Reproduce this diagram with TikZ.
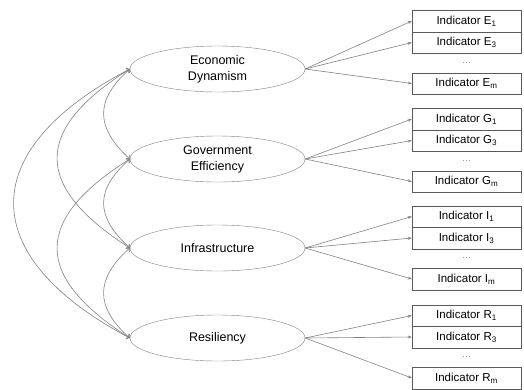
\documentclass[tikz,border=0pt]{standalone}
\usepackage{fontspec}
\setmainfont{Liberation Sans}
\usetikzlibrary{shapes.geometric,arrows.meta}
\begin{document}
\begin{tikzpicture}[x=1pt,y=-1pt]
\tikzset{factor/.style={ %
		draw=gray,
		ellipse,
		inner sep=0pt,
		minimum width=175pt,
		minimum height=46pt,
		align=center,
		font=\fontsize{12.5}{16}\selectfont %
	},
	indicator/.style={ %
		draw=black!65,
		minimum width=109pt,
		minimum height=21.5pt,
		inner sep=0pt,
		font=\fontsize{11.5}{13}\selectfont %
	},
	load/.style={gray,line width=0.6pt,-{Stealth[length=4pt,width=3pt]}},
	covar/.style={gray,line width=0.6pt,{To}-{To}}
}
\useasboundingbox (0,0) rectangle (524,389);
\node[factor] (econ)  at (217.5,69)  {Economic\\Dynamism};
\node[factor] (gov)   at (217.5,159) {Government\\Efficiency};
\node[factor] (infra) at (217.5,248) {Infrastructure};
\node[factor] (resil) at (217.5,338) {Resiliency};
\foreach \fac/\ltr/\ypos in {econ/E/21,gov/G/119,infra/I/216.5,resil/R/315.5} {
	\node[indicator] (\ltr1) at (466.5,\ypos) {Indicator \ltr\textsubscript{1}};
	\node[indicator] (\ltr3) at (466.5,\ypos+21.5) {Indicator \ltr\textsubscript{3}};
	\node[gray,font=\small] (\ltr dots) at (466.5,\ypos+42) {\ldots};
	\node[indicator] (\ltr m) at (466.5,\ypos+62.5) {Indicator \ltr\textsubscript{m}};
	\foreach \i in {1,3,m}
		\draw[load] (\fac.east) -- (\ltr\i.west);
}
\draw[covar] (econ.west) .. controls (95,100) and (95,127) .. (gov.west);
\draw[covar] (gov.west) .. controls (95,190) and (95,216) .. (infra.west);
\draw[covar] (infra.west) .. controls (95,279) and (95,307) .. (resil.west);
\draw[covar] (econ.west) .. controls (33,130) and (33,186) .. (infra.west);
\draw[covar] (gov.west) .. controls (33,220) and (33,276) .. (resil.west);
\draw[covar] (econ.west) .. controls (-25,150) and (-25,256) .. (resil.west);
\end{tikzpicture}
\end{document}
